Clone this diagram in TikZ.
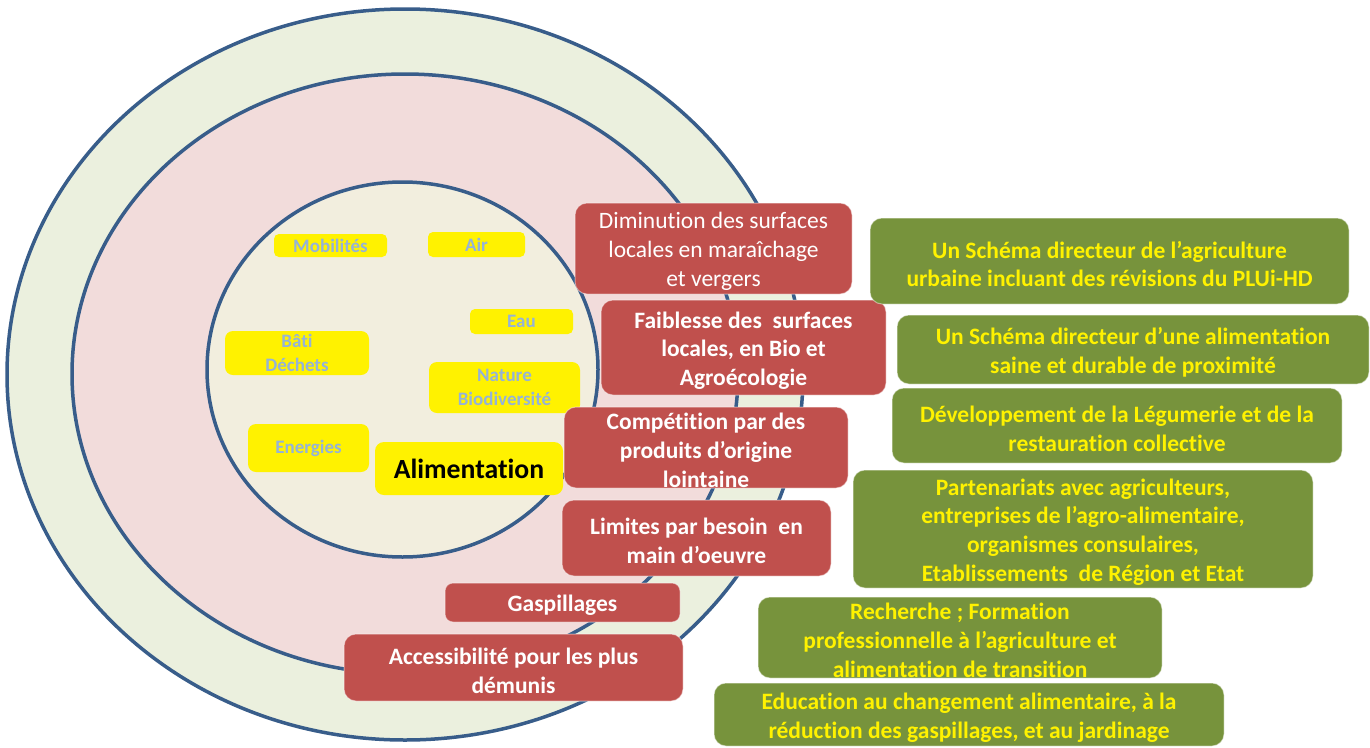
\documentclass[tikz,border=0pt]{standalone}
\usepackage{fontspec}
\setmainfont{Carlito}[Ligatures=NoCommon]
\definecolor{ringline}{RGB}{56,93,138}
\definecolor{outerfill}{RGB}{235,240,222}
\definecolor{midfill}{RGB}{242,220,219}
\definecolor{innerfill}{RGB}{242,238,222}
\definecolor{redc}{RGB}{192,80,77}
\definecolor{greenc}{RGB}{119,147,60}
\definecolor{labelblue}{RGB}{149,179,215}
\tikzset{
  ring/.style={draw=ringline, line width=3.5pt},
  ybox/.style={fill=yellow, rounded corners=5pt, inner sep=0pt, align=center,
    text=labelblue, font=\fontsize{19}{24}\selectfont\bfseries},
  redbox/.style={fill=redc, draw=white, draw opacity=0.45, line width=1pt,
    rounded corners=12pt, inner sep=0pt},
  greenbox/.style={fill=greenc, draw=white, draw opacity=0.45, line width=1pt,
    rounded corners=12pt, inner sep=0pt},
  redtext/.style={inner sep=0pt, align=center, text=white, yshift=-3pt,
    font=\fontsize{23.5}{28.7}\selectfont\bfseries},
  greentext/.style={inner sep=0pt, align=center, text=yellow, yshift=-3pt,
    font=\fontsize{23.5}{28.7}\selectfont\bfseries},
}
\begin{document}
\begin{tikzpicture}[x=1pt,y=-1pt]
\useasboundingbox (0,0) rectangle (1370,747);
\fill[white] (0,0) rectangle (1370,747);
% rings
\draw[ring, fill=outerfill] (405,374.5) ellipse [x radius=398pt, y radius=365.5pt];
\draw[ring, fill=midfill] (405,374) ellipse [x radius=333pt, y radius=300pt];
\draw[ring, fill=innerfill] (402.5,369.5) ellipse [x radius=195.5pt, y radius=187.5pt];
% yellow labels
\node[ybox, minimum width=113pt, minimum height=23pt] (mob) at (330.5,245.5) {Mobilités};
\node[ybox, minimum width=97pt, minimum height=25pt] (air) at (476.5,244.5) {Air};
\node[ybox, minimum width=103pt, minimum height=25pt] (eau) at (521.5,321.5) {Eau};
\node[ybox, minimum width=144pt, minimum height=44pt, rounded corners=8pt] (bati) at (297,353) {Bâti\\Déchets};
\node[ybox, minimum width=151pt, minimum height=51pt, rounded corners=8pt] (nat) at (504.5,387.5) {Nature\\Biodiversité};
\node[ybox, minimum width=121pt, minimum height=48pt, rounded corners=8pt] (ener) at (308.5,448) {Energies};
\node[ybox, minimum width=188pt, minimum height=53pt, rounded corners=9pt, text=black,
  font=\fontsize{27.7}{32}\selectfont\bfseries] (alim) at (469,468.5) {Alimentation};
% red boxes
\node[redbox, minimum width=277pt, minimum height=91pt] (dim) at (713.5,248.5) {};
\node[redtext, font=\fontsize{23.5}{28.7}\selectfont] (dimt) at (dim.center)
  {Diminution des surfaces\\locales en maraîchage\\et vergers};
\node[redbox, minimum width=285pt, minimum height=95pt] (faib) at (743.5,347.5) {};
\node[redtext] (faibt) at (faib.center)
  {Faiblesse des~ surfaces\\locales, en Bio et\\Agroécologie};
\node[redbox, minimum width=284pt, minimum height=81pt] (comp) at (706,447.5) {};
\node[redtext] (compt) at (comp.center)
  {Compétition par des\\produits d’origine\\lointaine};
\node[redbox, minimum width=269pt, minimum height=76pt] (lim) at (696.5,538) {};
\node[redtext] (limt) at (lim.center)
  {Limites par besoin~ en\\main d’oeuvre};
\node[redbox, minimum width=235pt, minimum height=39pt, rounded corners=8pt] (gasp) at (562.5,602.5) {};
\node[redtext] (gaspt) at (gasp.center) {Gaspillages};
\node[redbox, minimum width=339pt, minimum height=67pt] (acc) at (513.5,667.5) {};
\node[redtext] (acct) at (acc.center)
  {Accessibilité pour les plus\\démunis};
% green boxes
\node[greenbox, minimum width=479pt, minimum height=86pt] (sch1) at (1109.5,261) {};
\node[greentext] (sch1t) at (sch1.center)
  {Un Schéma directeur de l’agriculture\\urbaine incluant des révisions du PLUi-HD};
\node[greenbox, minimum width=472pt, minimum height=69pt] (sch2) at (1133,349.5) {};
\node[greentext] (sch2t) at (sch2.center)
  {Un Schéma directeur d’une alimentation\\saine et durable de proximité};
\node[greenbox, minimum width=450pt, minimum height=75pt] (dev) at (1117,425.5) {};
\node[greentext] (devt) at (dev.center)
  {Développement de la Légumerie et de la\\restauration collective};
\node[greenbox, minimum width=460pt, minimum height=118pt] (part) at (1083,529) {};
\node[greentext] (partt) at (part.center)
  {Partenariats avec agriculteurs,\\entreprises de l’agro-alimentaire,\\organismes consulaires,\\Etablissements~ de Région et Etat};
\node[greenbox, minimum width=404pt, minimum height=81pt] (rech) at (960,637.5) {};
\node[greentext] (recht) at (rech.center)
  {Recherche ; Formation\\professionnelle à l’agriculture et\\alimentation de transition};
\node[greenbox, minimum width=510pt, minimum height=63pt] (edu) at (969,714.5) {};
\node[greentext] (edut) at (edu.center)
  {Education au changement alimentaire, à la\\réduction des gaspillages, et au jardinage};
\end{tikzpicture}
\end{document}
